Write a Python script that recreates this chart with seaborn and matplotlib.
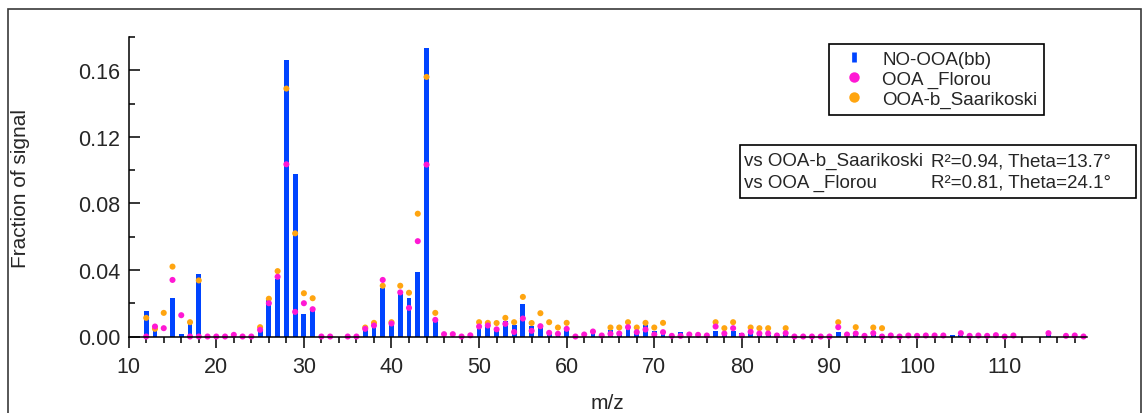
import numpy as np
import pandas as pd
import matplotlib
matplotlib.use("Agg")
import matplotlib.pyplot as plt
from matplotlib.lines import Line2D
from matplotlib.patches import Rectangle
from matplotlib.ticker import MultipleLocator, FormatStrFormatter
import seaborn as sns

nan = np.nan
mz = list(range(12, 120))

no_ooa_bb = [
    0.0156, 0.004, 0, 0.023, 0.0014, 0.0086, 0.0373, 0, 0, 0,          # 12-21
    0, 0, 0.001, 0.0046, 0.0217, 0.0347, 0.1664, 0.0976, 0.0134, 0.017,  # 22-31
    0, 0, 0, 0, 0, 0.0042, 0.0066, 0.0293, 0.0078, 0.0253,             # 32-41
    0.023, 0.0389, 0.1732, 0.0108, 0, 0, 0, 0, 0.0055, 0.0068,         # 42-51
    0.0035, 0.0094, 0.007, 0.0193, 0.0064, 0.007, 0.002, 0.001, 0.0052, 0,  # 52-61
    0, 0.003, 0, 0.0042, 0.003, 0.0052, 0.0032, 0.0072, 0.0032, 0.002,  # 62-71
    0, 0.003, 0, 0, 0, 0.0036, 0.001, 0.0036, 0.002, 0.003,            # 72-81
    0.001, 0.001, 0.002, 0.003, 0, 0, 0, 0, 0, 0.003,                  # 82-91
    0, 0.0018, 0.0014, 0.0018, 0.0018, 0, 0, 0, 0, 0,                  # 92-101
    0, 0, 0.0008, 0.0012, 0, 0, 0, 0, 0, 0,                            # 102-111
    0, 0, 0, 0.0014, 0, 0, 0, 0,                                       # 112-119
]

ooa_florou = [
    0, 0.006, 0.005, 0.034, 0.0128, 0, 0, 0, 0, 0,                     # 12-21
    0.001, 0, 0, 0.004, 0.020, 0.0359, 0.1035, 0.0148, 0.020, 0.0164,  # 22-31
    0, 0, nan, 0, 0, 0.0046, 0.0066, 0.034, 0.0078, 0.0265,            # 32-41
    0.0172, 0.0573, 0.1033, 0.010, 0.0014, 0.0014, 0, 0.0007, 0.006, 0.0066,  # 42-51
    0.0043, 0.0076, 0.0027, 0.0108, 0.0034, 0.0062, 0.0022, 0.0016, 0.0046, 0,  # 52-61
    0.0012, 0.003, 0.0006, 0.0016, 0.0018, 0.0056, 0.0026, 0.0042, 0.0012, 0.0026,  # 62-71
    0.0004, 0.0004, 0.0012, 0.001, 0.0006, 0.006, 0.0018, 0.005, 0.0006, 0.0028,  # 72-81
    0.0018, 0.0018, 0.0006, 0.002, 0, 0, 0, 0, 0, 0.0056,             # 82-91
    0.0012, 0.0018, 0.0004, 0.002, 0, 0.0006, 0, 0.0006, 0.0004, 0.0006,  # 92-101
    0.0006, 0.0006, nan, 0.002, 0.0004, 0.0006, 0.0004, 0.0008, 0, 0.0006,  # 102-111
    nan, nan, nan, 0.002, nan, 0.0004, 0.0006, 0,                      # 112-119
]

ooa_b_saarikoski = [
    0.0112, 0.0046, 0.0142, 0.042, nan, 0.0086, 0.0337, nan, nan, nan,  # 12-21
    nan, nan, nan, 0.0056, 0.0227, 0.0393, 0.149, 0.062, 0.026, 0.023,  # 22-31
    nan, nan, nan, nan, nan, 0.0054, 0.0082, 0.0305, 0.0086, 0.0305,   # 32-41
    0.0263, 0.0738, 0.156, 0.0142, nan, nan, nan, nan, 0.0086, 0.0082,  # 42-51
    0.0081, 0.0112, 0.0086, 0.0238, 0.0081, 0.014, 0.0086, 0.0054, 0.0082, nan,  # 52-61
    nan, nan, nan, 0.0054, 0.0054, 0.0086, 0.0054, 0.0082, 0.0054, 0.0082,  # 62-71
    nan, nan, nan, nan, nan, 0.0086, 0.005, 0.0086, nan, 0.0054,       # 72-81
    0.005, 0.005, nan, 0.005, nan, nan, nan, nan, nan, 0.0086,         # 82-91
    nan, 0.0056, nan, 0.0054, 0.005, nan, nan, nan, nan, nan,          # 92-101
    nan, nan, nan, nan, nan, nan, nan, nan, nan, nan,                  # 102-111
    nan, nan, nan, nan, nan, nan, nan, nan,                            # 112-119
]

series_labels = ["NO-OOA(bb)", "OOA _Florou", "OOA-b_Saarikoski"]
stats_names = ["vs OOA-b_Saarikoski", "vs OOA _Florou"]
stats_values = ["R\u00b2=0.94, Theta=13.7\u00b0", "R\u00b2=0.81, Theta=24.1\u00b0"]
x_ticks = list(range(10, 111, 10))

BLUE = "#0044FF"
PINK = "#FF18D4"
ORANGE = "#FFA510"

df = pd.DataFrame({"mz": mz, "bb": no_ooa_bb, "florou": ooa_florou,
                   "saarikoski": ooa_b_saarikoski})

sns.set_style("ticks")
plt.rcParams["font.family"] = ["Liberation Sans", "DejaVu Sans"]

W, H = 1143, 414
fig = plt.figure(figsize=(W / 100, H / 100), dpi=100)
ax_l, ax_r, ax_t, ax_b = 128.7, 1087.0, 38.0, 337.5
ax = fig.add_axes([ax_l / W, (H - ax_b) / H, (ax_r - ax_l) / W, (ax_b - ax_t) / H])

sns.barplot(data=df, x="mz", y="bb", native_scale=True, width=0.55,
            color=BLUE, errorbar=None, linewidth=0, saturation=1, ax=ax, zorder=2)
sns.scatterplot(data=df, x="mz", y="saarikoski", color=ORANGE, s=19,
                edgecolor="none", linewidth=0, ax=ax, zorder=4, clip_on=False, legend=False)
sns.scatterplot(data=df, x="mz", y="florou", color=PINK, s=19,
                edgecolor="none", linewidth=0, ax=ax, zorder=5, clip_on=False, legend=False)

ax.set_xlim(10, 119.4)
ax.set_ylim(0, 0.18)
ax.set_xticks(x_ticks)
ax.xaxis.set_minor_locator(MultipleLocator(2))
ax.yaxis.set_major_locator(MultipleLocator(0.04))
ax.yaxis.set_minor_locator(MultipleLocator(0.02))
ax.yaxis.set_major_formatter(FormatStrFormatter("%.2f"))
ax.set_xlabel("")
ax.set_ylabel("")

for s in ["top", "right"]:
    ax.spines[s].set_visible(False)
for s in ["left", "bottom"]:
    ax.spines[s].set_linewidth(1.1)
    ax.spines[s].set_color("black")
    ax.spines[s].set_zorder(6)

ax.tick_params(axis="x", which="major", direction="out", length=8, width=1.1,
               labelsize=15.5, pad=6, color="black")
ax.tick_params(axis="x", which="minor", direction="out", length=4.5, width=1.1, color="black")
ax.tick_params(axis="y", which="major", direction="in", length=8, width=1.1,
               labelsize=15.5, pad=6, color="black")
ax.tick_params(axis="y", which="minor", direction="in", length=4.5, width=1.1, color="black")

fig.text(21 / W, 1 - 188 / H, "Fraction of signal", rotation=90,
         ha="center", va="center", fontsize=15)
fig.text(607 / W, 5 / H, "m/z", ha="center", va="baseline", fontsize=15)

handles = [
    Line2D([], [], marker="|", ms=6.5, mew=3.4, color=BLUE, ls="None"),
    Line2D([], [], marker="o", ms=7.5, color=PINK, mec="none", ls="None"),
    Line2D([], [], marker="o", ms=7.5, color=ORANGE, mec="none", ls="None"),
]
leg = ax.legend(handles, series_labels, loc="upper left",
                bbox_to_anchor=(829 / W, 1 - 45 / H), bbox_transform=fig.transFigure,
                borderaxespad=0, fontsize=13.5, frameon=True, fancybox=False,
                framealpha=1, edgecolor="black", borderpad=0.35, labelspacing=0.15,
                handlelength=2.0, handletextpad=0.5)
leg.get_frame().set_linewidth(1.2)

# statistics box
fig.add_artist(Rectangle((740 / W, 1 - 199 / H), (1136 - 740) / W, (199 - 146) / H,
                         transform=fig.transFigure, fill=True, facecolor="white",
                         edgecolor="black", linewidth=1.2))
for i, (n, v) in enumerate(zip(stats_names, stats_values)):
    yy = 1 - (161.7 + i * 21.5) / H
    fig.text(744 / W, yy, n, ha="left", va="center", fontsize=13.5)
    fig.text(931 / W, yy, v, ha="left", va="center", fontsize=13.5)

# outer frame
fig.add_artist(Rectangle((8 / W, -0.02), (1141 - 8) / W, 0.02 + (H - 10) / H,
                         transform=fig.transFigure, fill=False,
                         edgecolor="#3a3a3a", linewidth=1.2))

fig.savefig("out.png", dpi=100)
